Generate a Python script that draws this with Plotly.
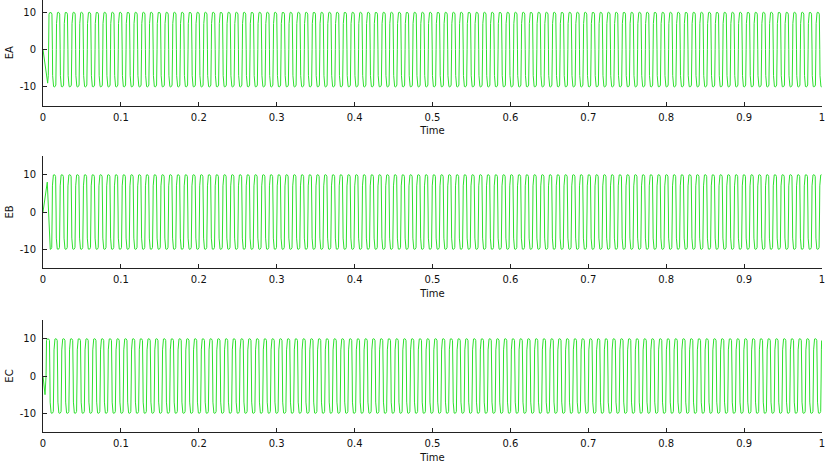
import numpy as np
import plotly.graph_objects as go
from plotly.subplots import make_subplots

# ---------------- data ----------------
CHANNELS = ["EA", "EB", "EC"]
PERIOD = 0.00995            # s, one cycle (about 100.5 cycles per second)
T_END = 1.0

# one cycle of the waveform, phase measured from a positive peak (fraction of period)
CYCLE_PHASE = [-0.25, -0.22, -0.19, -0.10, 0.00, 0.10, 0.19, 0.22,
               0.25, 0.28, 0.31, 0.40, 0.50, 0.60, 0.69, 0.72]
CYCLE_VALUE = [0.0, 7.0, 9.5, 9.9, 10.0, 9.9, 9.5, 7.0,
               0.0, -7.0, -9.5, -9.9, -10.0, -9.9, -9.5, -7.0]

# time of first regular positive peak for each channel
FIRST_PEAK = {"EA": 0.0096, "EB": 0.0143, "EC": 0.0064}
# start-up transient samples before the regular cycles take over
TRANSIENT_T = {"EA": [0.0, 0.002, 0.004, 0.006],
               "EB": [0.0, 0.0025, 0.0045, 0.0055],
               "EC": [0.0, 0.0013, 0.0026]}
TRANSIENT_V = {"EA": [0.0, -3.2, -6.2, -9.0],
               "EB": [0.0, 4.2, 7.0, 8.0],
               "EC": [0.0, -3.0, -5.0]}
STEADY_FROM = {"EA": 0.0066, "EB": 0.0090, "EC": 0.0038}

X_TICKS = [0, 0.1, 0.2, 0.3, 0.4, 0.5, 0.6, 0.7, 0.8, 0.9, 1]
X_TICK_TEXT = ["0", "0.1", "0.2", "0.3", "0.4", "0.5", "0.6", "0.7", "0.8", "0.9", "1"]
Y_TICKS = [-10, 0, 10]
Y_TICK_TEXT = ["-10", "0", "10"]
X_TITLE = "Time"


def build_series(name):
    phase = np.array(CYCLE_PHASE)
    vals = np.array(CYCLE_VALUE)
    n_cycles = int(np.ceil((T_END - FIRST_PEAK[name]) / PERIOD)) + 2
    ts, vs = [], []
    for k in range(-1, n_cycles):
        ts.append(FIRST_PEAK[name] + (k + phase) * PERIOD)
        vs.append(vals)
    ts = np.concatenate(ts)
    vs = np.concatenate(vs)
    keep = (ts >= STEADY_FROM[name]) & (ts <= T_END)
    t = np.concatenate([TRANSIENT_T[name], ts[keep]])
    v = np.concatenate([TRANSIENT_V[name], vs[keep]])
    return t, v


# ---------------- figure ----------------
W, H = 832, 466
ML, MR, MT, MB = 43, 10, 0, 34
plot_h = H - MT - MB

# panel pixel extents (top, bottom) measured in the picture
PANEL_PX = [(0, 105.5), (156, 268), (320, 432)]
Y_RANGES = [[-15, 13.3], [-15, 15], [-15, 15]]

fig = make_subplots(rows=3, cols=1)
LINE_COLOR = "#2ee02e"
FONT = "DejaVu Sans"

for i, name in enumerate(CHANNELS):
    t, v = build_series(name)
    fig.add_trace(go.Scatter(x=t, y=v, mode="lines",
                             line=dict(color=LINE_COLOR, width=1),
                             showlegend=False, hoverinfo="skip"),
                  row=i + 1, col=1)
    top, bot = PANEL_PX[i]
    dom = [(plot_h - (bot - MT)) / plot_h, (plot_h - (top - MT)) / plot_h]
    fig.update_yaxes(domain=dom, range=Y_RANGES[i], tickmode="array",
                     tickvals=Y_TICKS, ticktext=Y_TICK_TEXT,
                     ticks="inside", ticklen=4, tickcolor="#222",
                     showline=True, linecolor="#222", linewidth=1,
                     showgrid=False, zeroline=False,
                     ticklabelstandoff=4,
                     title=dict(text=name, standoff=4,
                                font=dict(family=FONT, size=10, color="#111")),
                     tickfont=dict(family=FONT, size=10, color="#111"),
                     row=i + 1, col=1)
    fig.update_xaxes(range=[0, 1], tickmode="array",
                     tickvals=X_TICKS, ticktext=X_TICK_TEXT,
                     ticks="inside", ticklen=4, tickcolor="#222",
                     showline=True, linecolor="#222", linewidth=1,
                     showgrid=False, zeroline=False,
                     ticklabelstandoff=2,
                     title=dict(text=X_TITLE, standoff=5,
                                font=dict(family=FONT, size=10, color="#111")),
                     tickfont=dict(family=FONT, size=10, color="#111"),
                     row=i + 1, col=1)

fig.update_layout(width=W, height=H,
                  margin=dict(l=ML, r=MR, t=MT, b=MB, pad=0),
                  paper_bgcolor="white", plot_bgcolor="white",
                  font=dict(family=FONT, size=10, color="#111"))

fig.write_html("out.html")
